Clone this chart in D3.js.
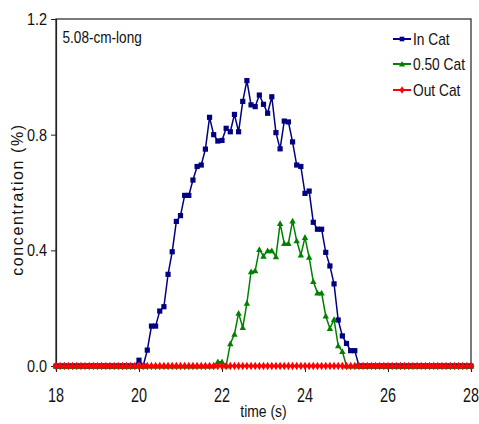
<!DOCTYPE html>
<html><head><meta charset="utf-8">
<script src="https://cdn.jsdelivr.net/npm/d3@7"></script>
<style>body{margin:0;background:#fff}svg{display:block}text{font-family:"Liberation Sans",Arial,sans-serif;fill:#111}</style>
</head><body><svg id="c" width="479" height="424"></svg>
<script>
const times = [
18.0,18.1,18.2,18.3,18.4,18.5,18.6,18.7,18.8,18.9,
19.0,19.1,19.2,19.3,19.4,19.5,19.6,19.7,19.8,19.9,
20.0,20.1,20.2,20.3,20.4,20.5,20.6,20.7,20.8,20.9,
21.0,21.1,21.2,21.3,21.4,21.5,21.6,21.7,21.8,21.9,
22.0,22.1,22.2,22.3,22.4,22.5,22.6,22.7,22.8,22.9,
23.0,23.1,23.2,23.3,23.4,23.5,23.6,23.7,23.8,23.9,
24.0,24.1,24.2,24.3,24.4,24.5,24.6,24.7,24.8,24.9,
25.0,25.1,25.2,25.3,25.4,25.5,25.6,25.7,25.8,25.9,
26.0,26.1,26.2,26.3,26.4,26.5,26.6,26.7,26.8,26.9,
27.0,27.1,27.2,27.3,27.4,27.5,27.6,27.7,27.8,27.9,
28.0];
const inCat = [
0,0,0,0,0,0,0,0,0,0,
0,0,0,0,0,0,0,0,0,0,
0.02,0,0.055,0.138,0.138,0.19,0.205,0.317,0.395,0.50,
0.52,0.59,0.59,0.643,0.69,0.695,0.75,0.86,0.80,0.778,
0.78,0.822,0.81,0.87,0.81,0.915,0.987,0.903,0.897,0.937,
0.905,0.874,0.931,0.807,0.751,0.847,0.844,0.775,0.695,0.69,
0.597,0.605,0.497,0.473,0.473,0.393,0.346,0.284,0.159,0.104,
0.078,0.053,0.053,0,0,0,0,0,0,0,
0,0,0,0,0,0,0,0,0,0,
0,0,0,0,0,0,0,0,0,0,
0];
const cat050 = [
0,0,0,0,0,0,0,0,0,0,
0,0,0,0,0,0,0,0,0,0,
0,0,0,0,0,0,0,0,0,0,
0,0,0,0,0,0,0,0,0,0.015,
0.015,0,0.077,0.11,0.183,0.133,0.217,0.326,0.33,0.403,
0.38,0.399,0.399,0.378,0.493,0.424,0.424,0.502,0.433,0.384,
0.445,0.376,0.292,0.253,0.253,0.173,0.13,0.161,0.07,0.05,
0,0,0,0,0,0,0,0,0,0,
0,0,0,0,0,0,0,0,0,0,
0,0,0,0,0,0,0,0,0,0,
0];
const outCat = [
0,0,0,0,0,0,0,0,0,0,
0,0,0,0,0,0,0,0,0,0,
0,0,0,0,0,0,0,0,0,0,
0,0,0,0,0,0,0,0,0,0,
0,0,0,0,0,0,0,0,0,0,
0,0,0,0,0,0,0,0,0,0,
0,0,0,0,0,0,0,0,0,0,
0,0,0,0,0,0,0,0,0,0,
0,0,0,0,0,0,0,0,0,0,
0,0,0,0,0,0,0,0,0,0,
0];
const seriesNames = ["In Cat","0.50 Cat","Out Cat"];
const xTicks = [18,20,22,24,26,28];
const yTicks = [0,0.4,0.8,1.2];
const yTickLabels = ["0.0","0.4","0.8","1.2"];

const svg = d3.select("#c");
const L=56, R=471, T=19, B=366;
const x = d3.scaleLinear().domain([18,28]).range([L,R]);
const y = d3.scaleLinear().domain([0,1.2]).range([B,T]);

function txt(g, str, px, py, size, sx, anchor){
  return g.append("text").attr("transform",`translate(${px},${py}) scale(${sx},1)`)
    .attr("font-size",size).attr("text-anchor",anchor||"start").text(str);
}

// frame
svg.append("rect").attr("x",L).attr("y",T).attr("width",R-L).attr("height",B-T)
  .attr("fill","none").attr("stroke","#222").attr("stroke-width",1.2);

// axes
const xa = svg.append("g").attr("transform",`translate(0,${B})`)
  .call(d3.axisBottom(x).tickValues(xTicks).tickSize(6).tickFormat(""));
xa.select(".domain").attr("stroke","#222").attr("stroke-width",1.2);
xa.selectAll(".tick line").attr("stroke","#222");
const ya = svg.append("g").attr("transform",`translate(${L},0)`)
  .call(d3.axisLeft(y).tickValues(yTicks).tickSize(5).tickFormat(""));
ya.select(".domain").attr("stroke","#222").attr("stroke-width",1.2);
ya.selectAll(".tick line").attr("stroke","#222");

xTicks.forEach(t=>txt(svg,String(t),x(t),402,20,0.72,"middle"));
yTicks.forEach((t,i)=>txt(svg,yTickLabels[i],47,y(t)+6,17,0.85,"end"));

txt(svg,"time (s)",x(23),417,17,0.82,"middle");
svg.append("text").attr("transform",`translate(23,${(y(0)+y(1.2))/2+7}) rotate(-90)`)
  .attr("text-anchor","middle").attr("font-size",16).attr("letter-spacing","1.6px")
  .text("concentration (%)");
txt(svg,"5.08-cm-long",62.5,43,17,0.8,"start");

const sq = s=>`M${-s},${-s}H${s}V${s}H${-s}Z`;
const tri = s=>`M0,${-s}L${s},${s*0.8}L${-s},${s*0.8}Z`;
const dia = s=>`M0,${-s*1.15}L${s*0.45},${-s*0.45}L${s},0L${s*0.45},${s*0.45}L0,${s*1.15}L${-s*0.45},${s*0.45}L${-s},0L${-s*0.45},${-s*0.45}Z`;

const series = [
  {name:seriesNames[0], vals:inCat, color:"#000080", mk:sq(2.6), lmk:sq(2.3)},
  {name:seriesNames[1], vals:cat050, color:"#008000", mk:tri(3.2), lmk:tri(3)},
  {name:seriesNames[2], vals:outCat, color:"#ff0000", mk:dia(3.6), lmk:dia(3.2)}
];
const line = d3.line().x((d,i)=>x(times[i])).y(d=>y(d));
series.forEach(s=>{
  svg.append("path").datum(s.vals).attr("d",line).attr("fill","none")
    .attr("stroke",s.color).attr("stroke-width",1.5);
  svg.append("g").selectAll("path").data(s.vals).join("path")
    .attr("transform",(d,i)=>`translate(${x(times[i])},${y(d)})`)
    .attr("d",s.mk).attr("fill",s.color);
});

// legend
const rows=[39,64,90];
series.forEach((s,i)=>{
  const g=svg.append("g");
  g.append("line").attr("x1",393).attr("x2",411).attr("y1",rows[i]).attr("y2",rows[i])
    .attr("stroke",s.color).attr("stroke-width",2);
  g.append("path").attr("transform",`translate(402,${rows[i]})`).attr("d",s.lmk).attr("fill",s.color);
  txt(g,s.name,413,rows[i]+6,16,0.86,"start");
});
</script></body></html>
